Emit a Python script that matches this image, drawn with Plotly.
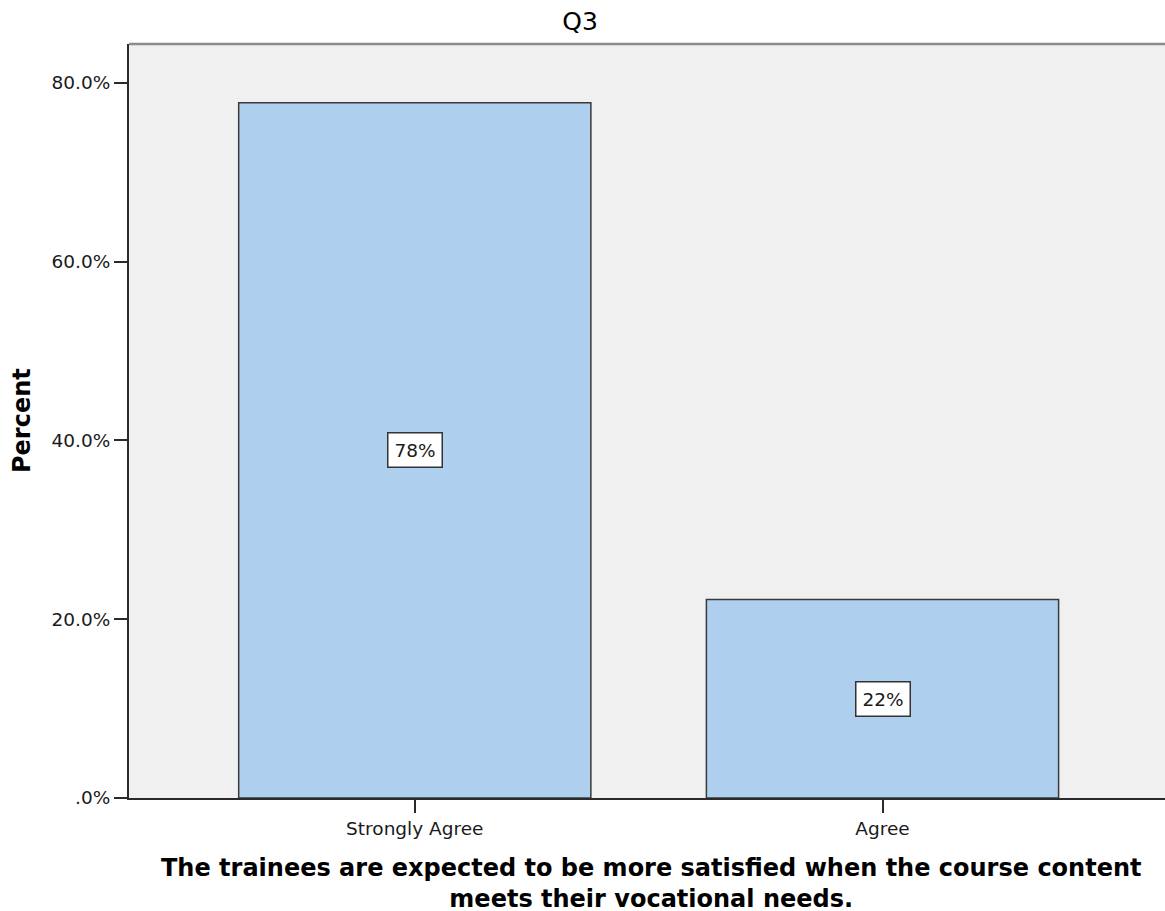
import plotly.graph_objects as go

categories = ["Strongly Agree", "Agree"]
percent_values = [77.8, 22.2]
y_tick_values = [0, 20, 40, 60, 80]
y_tick_labels = [".0%", "20.0%", "40.0%", "60.0%", "80.0%"]
chart_title = "Q3"
x_title = "The trainees are expected to be more satisfied when the course content<br>meets their vocational needs."
y_title = "Percent"

TICK_FONT = dict(family="DejaVu Sans", size=18.5, color="#1a1a1a")
BOLD_FONT = dict(family="DejaVu Sans", size=24, color="#000000")

fig = go.Figure()
fig.add_trace(go.Bar(
    x=categories,
    y=percent_values,
    width=0.753,
    marker=dict(color="#AECFEE", line=dict(color="#3a3a3a", width=1.5)),
    hoverinfo="skip",
))

annotations = []
for c, v in zip(categories, percent_values):
    annotations.append(dict(
        x=c, y=v / 2, xref="x", yref="y",
        text=f"{round(v)}%", showarrow=False,
        font=dict(family="DejaVu Sans", size=18.5, color="#1a1a1a"),
        bgcolor="#FFFFFF", bordercolor="#333333", borderwidth=1.5, borderpad=6,
        xanchor="center", yanchor="middle",
    ))

annotations.append(dict(
    x=0, y=0.5, xref="paper", yref="paper", xshift=-107,
    text=f"<b>{y_title}</b>", textangle=-90, showarrow=False,
    font=BOLD_FONT, xanchor="center", yanchor="middle",
))
annotations.append(dict(
    x=0.504, y=0, xref="paper", yref="paper", yshift=-54,
    text=f"<b>{x_title}</b>", showarrow=False,
    font=BOLD_FONT, xanchor="center", yanchor="top",
))

fig.update_layout(
    width=1165, height=911,
    margin=dict(l=129, r=0, t=44, b=113),
    paper_bgcolor="#FFFFFF",
    plot_bgcolor="#F0F0F0",
    showlegend=False,
    title=dict(text=chart_title, x=580 / 1165, xref="container", xanchor="center",
               y=1 - 21 / 911, yref="container", yanchor="middle",
               font=dict(family="DejaVu Sans", size=25, color="#000000")),
    annotations=annotations,
    shapes=[dict(type="line", xref="paper", yref="paper", x0=0, x1=1, y0=1, y1=1,
                 line=dict(color="#8C8C8C", width=2.5))],
    xaxis=dict(
        range=[-0.611, 1.604], showgrid=False, zeroline=False,
        showline=True, linecolor="#2a2a2a", linewidth=2,
        ticks="outside", ticklen=13, tickwidth=2, tickcolor="#2a2a2a",
        tickfont=TICK_FONT, fixedrange=True,
    ),
    yaxis=dict(
        range=[0, 84.36], showgrid=False, zeroline=False,
        showline=True, linecolor="#2a2a2a", linewidth=2,
        ticks="outside", ticklen=13, tickwidth=2, tickcolor="#2a2a2a",
        tickvals=y_tick_values, ticktext=y_tick_labels,
        tickfont=TICK_FONT, fixedrange=True,
    ),
)

fig.write_html(
    "out.html",
    config={"displayModeBar": False},
    post_script="document.body.style.margin='0';document.body.style.overflow='hidden';"
                "document.documentElement.style.overflow='hidden';",
)
